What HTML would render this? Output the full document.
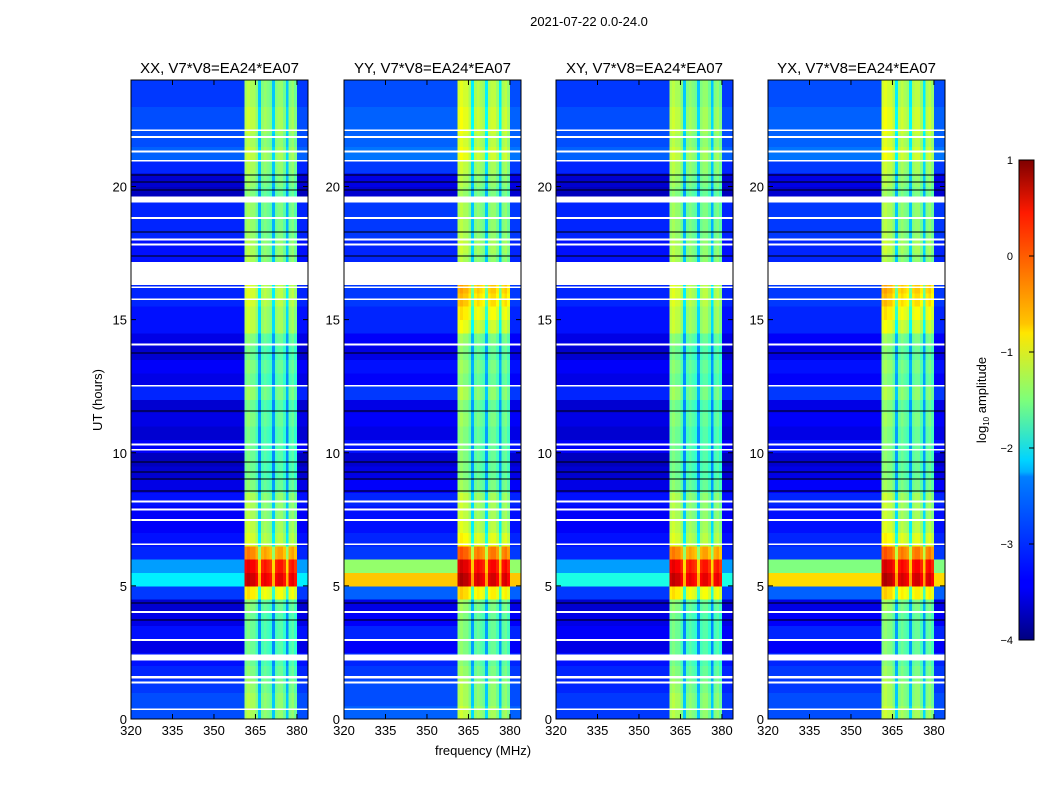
<!DOCTYPE html>
<html><head><meta charset="utf-8">
<style>
html,body{margin:0;padding:0;background:#fff;}
svg{display:block;font-family:"Liberation Sans",sans-serif;}
</style></head>
<body>
<svg id="chart" width="1050" height="800" viewBox="0 0 1050 800" xmlns="http://www.w3.org/2000/svg">
<defs>
<linearGradient id="jet" x1="0" y1="1" x2="0" y2="0">
<stop offset="0" stop-color="#00007f"/><stop offset="0.11" stop-color="#0000ff"/>
<stop offset="0.125" stop-color="#0000ff"/><stop offset="0.34" stop-color="#0080ff"/>
<stop offset="0.35" stop-color="#00b0ff"/><stop offset="0.375" stop-color="#00d4ff"/>
<stop offset="0.5" stop-color="#7dff7a"/><stop offset="0.64" stop-color="#ffe600"/>
<stop offset="0.66" stop-color="#ffc400"/><stop offset="0.89" stop-color="#ff1a00"/>
<stop offset="1" stop-color="#7f0000"/>
</linearGradient>
</defs>
<text x="589" y="26" font-size="13" text-anchor="middle">2021-07-22 0.0-24.0</text>
<g id="panels"></g>
<text x="483" y="755" font-size="13" text-anchor="middle">frequency (MHz)</text>
<text x="0" y="0" font-size="13" text-anchor="middle" transform="translate(102,400) rotate(-90)">UT (hours)</text>
<g>
<rect x="1019" y="160" width="15" height="480" fill="url(#jet)" stroke="#000" stroke-width="1"/>
<g id="cbticks"></g>
<text font-size="13" text-anchor="middle" transform="translate(986,400) rotate(-90)">log<tspan font-size="8" dy="3">10</tspan><tspan dy="-3"> amplitude</tspan></text>
</g>
</svg>
<script>
// ---------- data ----------
const panelTitles = ["XX, V7*V8=EA24*EA07","YY, V7*V8=EA24*EA07","XY, V7*V8=EA24*EA07","YX, V7*V8=EA24*EA07"];
const xTicks = [320,335,350,365,380];
const yTicks = [0,5,10,15,20];
const cbTicks = [1,0,-1,-2,-3,-4];
// log10 amplitude per 1 MHz channel, 320..383 MHz (band region)
const freqProfile = [
-3.3,-3.3,-3.3,-3.3,-3.3,-3.3,-3.3,-3.3,-3.3,-3.3,
-3.3,-3.3,-3.3,-3.3,-3.3,-3.3,-3.3,-3.3,-3.3,-3.3,
-3.3,-3.3,-3.3,-3.3,-3.3,-3.3,-3.3,-3.3,-3.3,-3.3,
-3.3,-3.3,-3.3,-3.3,-3.3,-3.3,-3.3,-3.3,-3.3,-3.3,
-3.3,-1.3,-1.2,-1.3,-1.3,-1.5,-2.4,-1.5,-1.4,-1.5,
-1.6,-2.4,-1.5,-1.4,-1.4,-1.6,-2.4,-1.5,-1.4,-1.6,
-3.3,-3.3,-3.3,-3.3];
const bandStart = 361, bandEnd = 380;
// per-half-hour background level outside the band (48 rows, 0h..24h)
const bgXX = [-3.0,-3.0,-3.1,-3.2,-3.3,-3.5,-3.3,-3.5,-3.6,-3.1,-2.2,-2.6,-3.2,-3.3,-3.4,-3.4,-3.3,-3.5,-3.6,-3.7,
-3.4,-3.6,-3.5,-3.6,-3.2,-3.5,-3.4,-3.6,-3.5,-3.3,-3.3,-3.2,-3.2,-3.3,-3.3,-3.3,-3.2,-3.2,-3.2,-3.7,-3.6,-3.2,-2.9,-3.0,-3.0,-3.0,-3.1,-3.1];
const bgYY = [-2.9,-3.0,-3.0,-3.1,-3.2,-3.4,-3.2,-3.4,-3.5,-2.9,-0.6,-1.4,-3.1,-3.2,-3.3,-3.3,-3.2,-3.4,-3.5,-3.6,
-3.3,-3.5,-3.4,-3.5,-3.1,-3.4,-3.3,-3.5,-3.4,-3.2,-3.2,-3.1,-3.1,-3.2,-3.2,-3.2,-3.1,-3.1,-3.1,-3.6,-3.5,-3.1,-2.8,-2.9,-2.9,-2.9,-3.0,-3.0];
const bgXY = [-3.1,-3.1,-3.2,-3.2,-3.3,-3.5,-3.4,-3.5,-3.6,-3.1,-2.0,-2.6,-3.2,-3.3,-3.4,-3.4,-3.3,-3.5,-3.6,-3.7,
-3.4,-3.6,-3.5,-3.6,-3.2,-3.5,-3.4,-3.6,-3.5,-3.3,-3.3,-3.2,-3.2,-3.3,-3.3,-3.3,-3.2,-3.2,-3.2,-3.7,-3.6,-3.2,-2.9,-3.0,-3.0,-3.0,-3.1,-3.1];
const bgYX = [-3.0,-3.0,-3.1,-3.1,-3.2,-3.4,-3.2,-3.4,-3.5,-2.9,-0.7,-1.5,-3.1,-3.2,-3.3,-3.3,-3.2,-3.4,-3.5,-3.6,
-3.3,-3.5,-3.4,-3.5,-3.1,-3.4,-3.3,-3.5,-3.4,-3.2,-3.2,-3.1,-3.1,-3.2,-3.2,-3.2,-3.1,-3.1,-3.1,-3.6,-3.5,-3.1,-2.8,-2.9,-2.9,-2.9,-3.0,-3.0];
// offset added to band channels per half-hour row
const bandOffXX = [0,0,-0.1,-0.2,-0.3,-0.3,-0.3,-0.3,-0.2,0.5,1.9,1.7,1.0,0.2,0.1,0,0,-0.2,-0.3,-0.3,
-0.3,-0.3,-0.2,-0.3,-0.1,-0.3,-0.2,-0.3,-0.2,0.1,0.1,0.2,0.2,0,0,0,-0.1,-0.1,-0.1,-0.2,-0.1,0,0.1,0,0.1,0.1,0,0];
const bandOffYY = [0.1,0,0,-0.1,-0.2,-0.2,-0.2,-0.2,-0.1,0.6,2.0,1.8,1.2,0.4,0.2,0.1,0.1,-0.1,-0.2,-0.2,
-0.2,-0.2,-0.1,-0.2,0,-0.2,-0.1,-0.2,-0.1,0.3,0.5,0.7,0.8,0,0,0.1,0,0,0,-0.1,0,0.1,0.3,0.2,0.3,0.3,0.2,0.2];
const bgSets = [bgXX,bgYY,bgXY,bgYX];
const bandSets = [bandOffXX,bandOffYY,bandOffXX,bandOffYY];
// flagged (white) intervals in hours [start,end]
const flagStart = [0.33,1.33,1.53,2.2,2.93,3.98,6.53,7.43,7.83,8.13,10.08,10.28,12.48,14.03,15.73,16.18,16.3,17.78,17.98,18.78,19.4,20.93,21.28,21.83,22.08];
const flagEnd   = [0.40,1.40,1.62,2.42,3.00,4.05,6.60,7.52,7.90,8.20,10.15,10.35,12.55,14.10,15.80,16.25,17.17,17.85,18.05,18.85,19.62,21.00,21.35,21.90,22.14];
// black (zero) lines in hours
const blackLines = [3.72,4.36,8.56,9.01,9.28,9.65,11.57,13.75,17.39,18.29,19.87,20.17,20.43];

// ---------- helpers ----------
const NS="http://www.w3.org/2000/svg";
function jet(v){
  let t=(v+4)/5; t=Math.max(0,Math.min(1,t));
  const c=x=>Math.max(0,Math.min(1,x));
  const r=c(1.5-Math.abs(4*t-3)), g=c(1.5-Math.abs(4*t-2)), b=c(1.5-Math.abs(4*t-1));
  return `rgb(${Math.round(r*255)},${Math.round(g*255)},${Math.round(b*255)})`;
}
const panelX=[131,344,556,768], PW=177, PT=80, PB=719;
function xs(px,f){return px+(f-320)*PW/64;}
function ys(h){return PB-h*(PB-PT)/24;}
function mk(tag,attrs,parent){const e=document.createElementNS(NS,tag);for(const k in attrs)e.setAttribute(k,attrs[k]);parent.appendChild(e);return e;}

const root=document.getElementById('panels');
panelTitles.forEach((title,p)=>{
  const px=panelX[p];
  const g=mk('g',{},root);
  
  
  const hm=mk('g',{'shape-rendering':'crispEdges'},g);
  
  
  const bg=bgSets[p], bo=bandSets[p];
  for(let t=0;t<bg.length;t++){
    const y0=ys((t+1)*0.5), y1=ys(t*0.5);
    for(let f=0;f<freqProfile.length;f++){
      const fr=320+f;
      const inBand = fr>=bandStart && fr<bandEnd;
      const v = inBand ? freqProfile[f]+bo[t] : bg[t];
      const r=mk('rect',{x:xs(px,fr),y:y0,width:PW/64+0.4,height:y1-y0+0.4,fill:jet(v)},hm);
      
      
    }
  }
  blackLines.forEach(h=>{
    const r=mk('rect',{x:px,y:ys(h)-0.5,width:PW,height:1,fill:'#000'},hm);
    
    
  });
  flagStart.forEach((s,i)=>{
    const r=mk('rect',{x:px,y:ys(flagEnd[i]),width:PW,height:ys(s)-ys(flagEnd[i]),fill:'#fff'},hm);
    
    
  });
  const fr=mk('rect',{x:px,y:PT,width:PW,height:PB-PT,fill:'none',stroke:'#000','stroke-width':1},g);
  
  
  const tt=mk('text',{x:px+PW/2,y:73,'font-size':15,'text-anchor':'middle'},g);
  
  
  tt.textContent=title;
  xTicks.forEach(v=>{
    const x=xs(px,v);
    mk('line',{x1:x,y1:PB,x2:x,y2:PB-5,stroke:'#000'},g);
    mk('line',{x1:x,y1:PT,x2:x,y2:PT+5,stroke:'#000'},g);
    const l=mk('text',{x:x,y:PB+16,'font-size':13,'text-anchor':'middle'},g);
    
    
    l.textContent=v;
  });
  yTicks.forEach(v=>{
    const y=ys(v);
    mk('line',{x1:px,y1:y,x2:px+5,y2:y,stroke:'#000'},g);
    mk('line',{x1:px+PW,y1:y,x2:px+PW-5,y2:y,stroke:'#000'},g);
    const l=mk('text',{x:px-4,y:y+5,'font-size':13,'text-anchor':'end'},g);
    
    
    l.textContent=v;
  });
});
const cb=document.getElementById('cbticks');
cbTicks.forEach(v=>{
  const y=640-(v+4)/5*480;
  mk('line',{x1:1034,y1:y,x2:1029,y2:y,stroke:'#000'},cb);
  const l=mk('text',{x:1013,y:y+4,'font-size':11,'text-anchor':'end'},cb);
  
  
  l.textContent=v<0?'\u2212'+(-v):String(v);
});
</script>
</body></html>
